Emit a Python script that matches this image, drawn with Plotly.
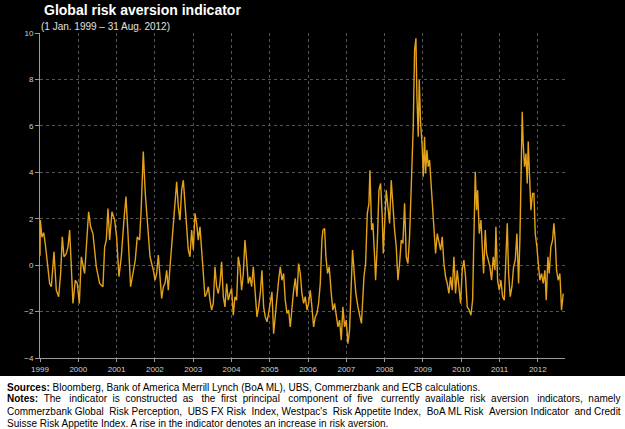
import plotly.graph_objects as go

# Decimal-year positions and indicator values
years = [
    1999.000, 1999.009, 1999.052, 1999.096, 1999.139, 1999.209, 1999.252, 1999.296, 1999.365, 1999.426,
    1999.487, 1999.539, 1999.583, 1999.626, 1999.687, 1999.731, 1999.774, 1999.818, 1999.861, 1999.922,
    1999.974, 2000.027, 2000.079, 2000.166, 2000.209, 2000.270, 2000.322, 2000.383, 2000.470, 2000.557,
    2000.644, 2000.688, 2000.731, 2000.775, 2000.818, 2000.879, 2000.949, 2001.001, 2001.062, 2001.123,
    2001.192, 2001.245, 2001.297, 2001.366, 2001.427, 2001.488, 2001.540, 2001.601, 2001.645, 2001.697,
    2001.749, 2001.790,
    2001.829, 2001.873, 2001.916, 2001.960, 2002.003, 2002.047, 2002.090, 2002.134, 2002.177, 2002.221,
    2002.264, 2002.308, 2002.351, 2002.395, 2002.438, 2002.482, 2002.525, 2002.569, 2002.612, 2002.656,
    2002.699, 2002.743, 2002.786, 2002.830, 2002.873, 2002.917, 2002.960, 2003.004, 2003.047, 2003.091,
    2003.134, 2003.178, 2003.221, 2003.265, 2003.308, 2003.352, 2003.395, 2003.439, 2003.482, 2003.526,
    2003.569, 2003.613, 2003.656, 2003.700, 2003.743, 2003.787, 2003.830, 2003.874, 2003.917, 2003.961,
    2004.004, 2004.048, 2004.091, 2004.135, 2004.178, 2004.222, 2004.265, 2004.309, 2004.352, 2004.396,
    2004.439, 2004.483, 2004.526, 2004.570, 2004.613,
    2004.622, 2004.666, 2004.709, 2004.753, 2004.796, 2004.840, 2004.883, 2004.927, 2004.970, 2005.014,
    2005.057, 2005.101, 2005.144, 2005.188, 2005.231, 2005.275, 2005.318, 2005.362, 2005.405, 2005.449,
    2005.492, 2005.536, 2005.579, 2005.623, 2005.666, 2005.710, 2005.753, 2005.797, 2005.840, 2005.884,
    2005.927, 2005.971, 2006.014, 2006.058, 2006.101, 2006.145, 2006.188, 2006.232, 2006.275, 2006.319,
    2006.362, 2006.388, 2006.432, 2006.466, 2006.510, 2006.553, 2006.606, 2006.649, 2006.693, 2006.736,
    2006.780, 2006.823, 2006.867, 2006.910, 2006.954, 2006.997, 2007.041, 2007.084, 2007.128, 2007.162,
    2007.206, 2007.249, 2007.302, 2007.345, 2007.375, 2007.395,
    2007.416, 2007.460, 2007.503, 2007.547, 2007.590, 2007.616, 2007.660, 2007.694, 2007.738, 2007.764,
    2007.808, 2007.851, 2007.895, 2007.938, 2007.964, 2008.008, 2008.042, 2008.086, 2008.129, 2008.173,
    2008.216, 2008.260, 2008.303, 2008.347, 2008.390, 2008.434, 2008.477, 2008.521, 2008.564, 2008.608,
    2008.651, 2008.695, 2008.721, 2008.747, 2008.782, 2008.817, 2008.843, 2008.878, 2008.904, 2008.939,
    2008.982, 2009.008, 2009.043, 2009.069, 2009.104, 2009.139, 2009.173, 2009.208, 2009.243, 2009.287,
    2009.330, 2009.374, 2009.417, 2009.461, 2009.504, 2009.548, 2009.591, 2009.635, 2009.678, 2009.722,
    2009.765, 2009.809, 2009.852, 2009.896, 2009.939, 2009.983, 2010.026, 2010.070, 2010.113, 2010.157,
    2010.210, 2010.254, 2010.297, 2010.341, 2010.367, 2010.401, 2010.428, 2010.471, 2010.515, 2010.558,
    2010.584, 2010.628, 2010.662, 2010.706, 2010.749, 2010.793, 2010.836, 2010.880, 2010.906, 2010.950,
    2010.993, 2011.037, 2011.080, 2011.124, 2011.167, 2011.202, 2011.237, 2011.280, 2011.324, 2011.367,
    2011.411, 2011.454, 2011.498, 2011.532, 2011.567, 2011.593, 2011.619, 2011.654, 2011.689, 2011.724,
    2011.750, 2011.785, 2011.819, 2011.863, 2011.898, 2011.933, 2011.976, 2012.020, 2012.054, 2012.098,
    2012.141, 2012.185, 2012.220, 2012.263, 2012.298, 2012.341, 2012.385, 2012.420, 2012.454, 2012.489,
    2012.533, 2012.576, 2012.620, 2012.663,
]

values = [
    0.40, 1.94, 1.20, 1.40, 0.90, -0.07, -0.79, -0.93, 0.57, -1.08,
    -1.36, -0.36, 1.22, 0.36, 0.50, 0.79, 1.51, -0.07, -1.65, -0.65,
    -0.79, -1.65, 0.36, -0.36, 0.65, 2.30, 1.65, 1.36, -0.07, -0.79,
    -0.93, 0.79, 1.08, 2.44, 1.08, 2.30, 1.94, 1.22, -0.50, 0.36,
    1.94, 2.95, 1.36, -0.93, -0.36, 0.22, 1.22, 1.08, 2.51, 4.89,
    3.09, 2.08,
    1.08, 0.36, 0.07, -0.22, -0.65, -0.36, 0.43, -0.65, -1.44, -0.93,
    -0.79, -0.22, -1.08, -0.07, 0.79, 1.65, 2.80, 3.59, 2.51, 1.94,
    3.23, 3.66, 2.66, 1.36, 0.65, 0.36, 1.51, 0.65, 2.23, 1.80,
    1.08, 1.65, 0.50, -0.36, -1.36, -1.22, -0.93, -1.51, -1.94, -1.65,
    -0.07, -0.93, -1.22, -0.79, 0.14, -1.36, -1.80, -0.79, -1.51, -1.22,
    -1.01, -2.16, -1.36, -1.51, 0.36, -0.07, -1.08, -0.36, 1.08, 0.22,
    -0.79, -0.50, -0.93, -0.07, -0.93,
    -1.36, -2.23, -1.80, -1.22, -0.22, -1.80, -2.23, -2.44, -2.08, -1.51,
    -1.15, -2.95, -2.08, -1.36, -0.65, -0.07, -0.65, -0.36, -1.51, -2.08,
    -1.94, -2.66, -1.80, -1.08, -0.57, -1.36, 0.07, -0.36, -1.22, -1.65,
    -1.36, -1.94, -1.65, -1.08, -1.80, -2.66, -2.23, -2.08, -1.65, -0.79,
    1.08, 1.51, 1.58, 0.36, -0.36, -0.07, -1.22, -1.94, -1.65, -2.23,
    -2.66, -2.37, -3.23, -1.80, -2.66, -2.37, -3.38, -2.80, -0.65, 0.65,
    -0.36, -1.22, -1.80, -2.23, -2.37, -2.51,
    -1.65, -0.50, 0.07, 2.23, 2.66, 4.09, 1.51, 1.80, 0.36, -0.65,
    0.93, 3.23, 3.52, 2.08, 0.50, 1.94, 3.23, 2.51, 1.80, 3.66,
    2.37, 1.51, 0.79, -0.65, 0.07, 1.08, 0.93, 2.66, 0.36, 0.07,
    1.22, 3.38, 4.38, 5.96, 9.27, 9.77, 7.26, 5.53, 7.97, 6.11,
    5.10, 3.81, 5.53, 3.95, 4.96, 4.24, 4.53, 3.52, 2.51, 1.51,
    0.50, 1.36, 0.93, 0.65, 1.22, 0.07, -0.50, -0.79, -1.22, -0.50,
    -1.08, 0.36, -1.22, -0.22, -0.93, -1.65, -0.22, 0.22, -0.50, -1.80,
    -1.94, -2.16, -1.51, 2.80, 4.02, 2.37, 3.23, 1.36, 1.94, 0.50,
    -0.36, 1.51, 0.50, 0.22, -0.07, -0.65, 0.36, -0.22, 1.65, -0.65,
    -1.08, -0.65, -1.36, -1.51, 0.22, 1.80, -0.36, -1.36, -0.93, -0.07,
    0.22, 1.36, -0.79, 1.08, 4.24, 6.61, 5.24, 4.24, 4.81, 3.52,
    5.32, 3.23, 2.37, 3.09, 3.09, 1.36, 0.79, -0.07, -0.65, -0.36,
    -0.79, -0.22, -1.51, 0.36, -0.36, 0.79, 1.08, 1.80, 1.08, -0.22,
    -0.65, -0.36, -1.94, -1.22,
]

tick_years = list(range(1999, 2013))
tick_labels = [str(y) for y in tick_years]
y_ticks = [-4, -2, 0, 2, 4, 6, 8, 10]

title_text = "Global risk aversion indicator"
subtitle_text = "(1 Jan. 1999 \u2013 31 Aug. 2012)"
note_lines = [
    "<b>Sources:</b> Bloomberg, Bank of America Merrill Lynch (BoA ML), UBS, Commerzbank and ECB calculations.",
    "<b>Notes:</b> The indicator is constructed as the first principal component of five currently available risk aversion indicators, namely",
    "Commerzbank Global Risk Perception, UBS FX Risk Index, Westpac's Risk Appetite Index, BoA ML Risk Aversion Indicator and Credit",
    "Suisse Risk Appetite Index. A rise in the indicator denotes an increase in risk aversion.",
]
# extra non-breaking spaces used to approximate the justified lines
note_extra_spaces = [0, 22, 7, 0]

FONT = "Arial, 'Liberation Sans', sans-serif"
W, H = 625, 429
ML, MR, MT, MB = 40, 60, 33, 71
PH = H - MT - MB


def py(px):
    return (H - MB - px) / PH


def pxx(px):
    return (px - ML) / (W - ML - MR)


def justify(text, extra):
    if extra <= 0:
        return text
    words = text.split(" ")
    gaps = len(words) - 1
    out = words[0]
    given = 0
    for i in range(1, len(words)):
        target = round(extra * i / gaps)
        n = target - given
        given = target
        out += " " + "&nbsp;" * n + words[i]
    return out


fig = go.Figure()
fig.add_trace(go.Scatter(
    x=years, y=values, mode="lines",
    line=dict(color="#E3A21A", width=1.4),
    hoverinfo="skip", showlegend=False,
))

fig.update_layout(
    width=W, height=H,
    margin=dict(l=ML, r=MR, t=MT, b=MB),
    paper_bgcolor="#000000",
    plot_bgcolor="#000000",
    font=dict(family=FONT, color="#d0d0d0", size=8),
    xaxis=dict(
        range=[1999, 2012.71], tickvals=tick_years, ticktext=tick_labels,
        showgrid=True, gridcolor="#555555", griddash="dot", gridwidth=1,
        showline=True, linecolor="#9a9a9a", linewidth=1,
        ticks="outside", ticklen=3, tickcolor="#9a9a9a",
        tickfont=dict(size=8, color="#d0d0d0"), zeroline=False,
    ),
    yaxis=dict(
        range=[-4, 10], tickvals=y_ticks,
        showgrid=True, gridcolor="#555555", griddash="dot", gridwidth=1,
        showline=True, linecolor="#9a9a9a", linewidth=1,
        ticks="outside", ticklen=4, tickcolor="#9a9a9a",
        tickfont=dict(size=8, color="#d0d0d0"), zeroline=False,
    ),
    shapes=[dict(
        type="rect", xref="paper", yref="paper", layer="above",
        x0=pxx(-5), x1=pxx(W + 5), y0=py(376), y1=py(H + 5),
        fillcolor="#ffffff", line=dict(width=0),
    )],
)

annotations = [
    dict(text="<b>" + title_text + "</b>", x=pxx(42), y=py(10), xref="paper", yref="paper",
         xanchor="left", yanchor="middle", showarrow=False,
         font=dict(family=FONT, size=14, color="#ffffff")),
    dict(text=subtitle_text, x=pxx(39), y=py(26), xref="paper", yref="paper",
         xanchor="left", yanchor="middle", showarrow=False,
         font=dict(family=FONT, size=10, color="#e0e0e0")),
]
line_rows = [387, 399, 411, 423]
for row, txt, extra in zip(line_rows, note_lines, note_extra_spaces):
    annotations.append(dict(
        text=justify(txt, extra), x=pxx(5), y=py(row), xref="paper", yref="paper",
        xanchor="left", yanchor="middle", showarrow=False,
        font=dict(family=FONT, size=10, color="#000000"),
    ))
fig.update_layout(annotations=annotations)

fig.write_html("out.html")
